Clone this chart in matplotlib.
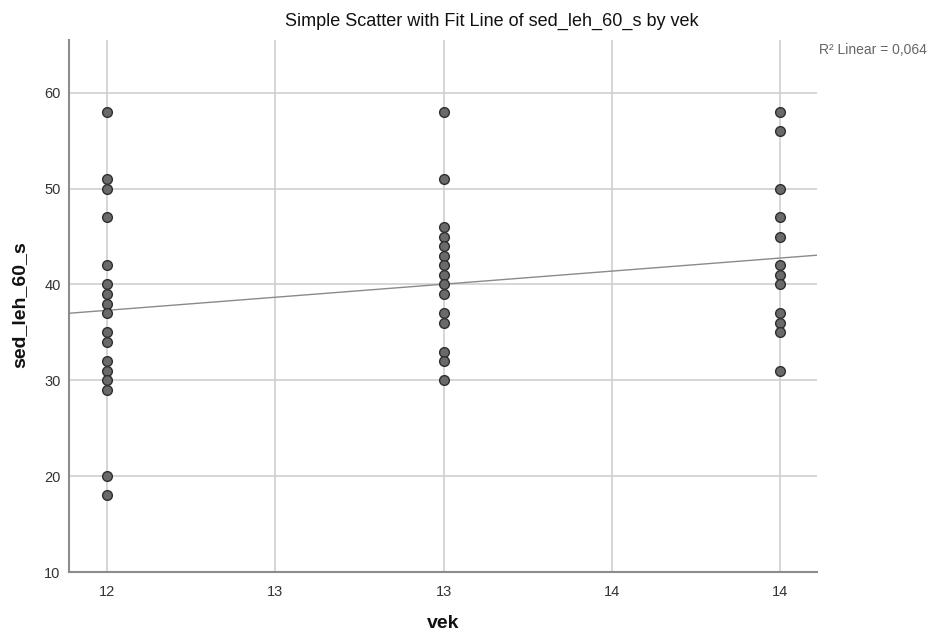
import numpy as np
import matplotlib.pyplot as plt

plt.rcParams['font.family'] = ['Liberation Sans', 'DejaVu Sans']

# values
vek_12 = [58, 51, 50, 47, 42, 40, 39, 38, 37, 35, 34, 32, 31, 30, 29, 20, 18]
vek_13 = [58, 51, 46, 45, 44, 43, 42, 41, 40, 39, 37, 36, 33, 32, 30]
vek_14 = [58, 56, 50, 47, 45, 42, 41, 40, 37, 36, 35, 31]

# fit line as drawn in the chart (value at vek=12 and vek=14)
fit_x = [12, 14]
fit_y = [37.3, 42.75]

x_ticks = [12, 12.5, 13, 13.5, 14]
x_tick_labels = ['12', '13', '13', '14', '14']
y_ticks = [10, 20, 30, 40, 50, 60]
r2_label = 'R\u00b2 Linear = 0,064'

x = np.array([12] * len(vek_12) + [13] * len(vek_13) + [14] * len(vek_14), dtype=float)
y = np.array(vek_12 + vek_13 + vek_14, dtype=float)

fig = plt.figure(figsize=(9.34, 6.34), dpi=100)
ax = fig.add_axes([69 / 934, 62 / 634, 748 / 934, 532 / 634])

xlim = (11.887, 14.11)
ax.set_xlim(xlim)
ax.set_ylim(10, 65.5)

ax.set_xticks(x_ticks)
ax.set_xticklabels(x_tick_labels)
ax.set_yticks(y_ticks)
ax.tick_params(length=0, labelsize=10.5, colors='#333333')
ax.tick_params(axis='x', pad=9)
ax.tick_params(axis='y', pad=6)

ax.grid(True, color='#cfcfcf', linewidth=1.2)
ax.set_axisbelow(True)
for side in ['top', 'right']:
    ax.spines[side].set_visible(False)
for side in ['left', 'bottom']:
    ax.spines[side].set_color('#8c8c8c')
    ax.spines[side].set_linewidth(1.5)

# fit line, extended across the plot
slope, intercept = np.polyfit(fit_x, fit_y, 1)
xs = np.array(xlim)
ax.plot(xs, slope * xs + intercept, color='#8a8a8a', linewidth=1, zorder=2)

ax.plot(x, y, 'o', markersize=7, markerfacecolor='#6a6a6a',
        markeredgecolor='#2e2e2e', markeredgewidth=1, zorder=3, clip_on=False)

fig.text(492 / 934, 1 - 21 / 634, 'Simple Scatter with Fit Line of sed_leh_60_s by vek',
         ha='center', va='center', fontsize=13, color='#111111')
fig.text(819 / 934, 1 - 50 / 634, r2_label, ha='left', va='center',
         fontsize=10, color='#666666')
fig.text(443 / 934, 1 - 624 / 634, 'vek', ha='center', va='center',
         fontsize=14, fontweight='bold', color='#111111')
fig.text(20 / 934, 1 - 305 / 634, 'sed_leh_60_s', ha='center', va='center',
         rotation=90, fontsize=14, fontweight='bold', color='#111111')

fig.savefig('out.png', dpi=100)
